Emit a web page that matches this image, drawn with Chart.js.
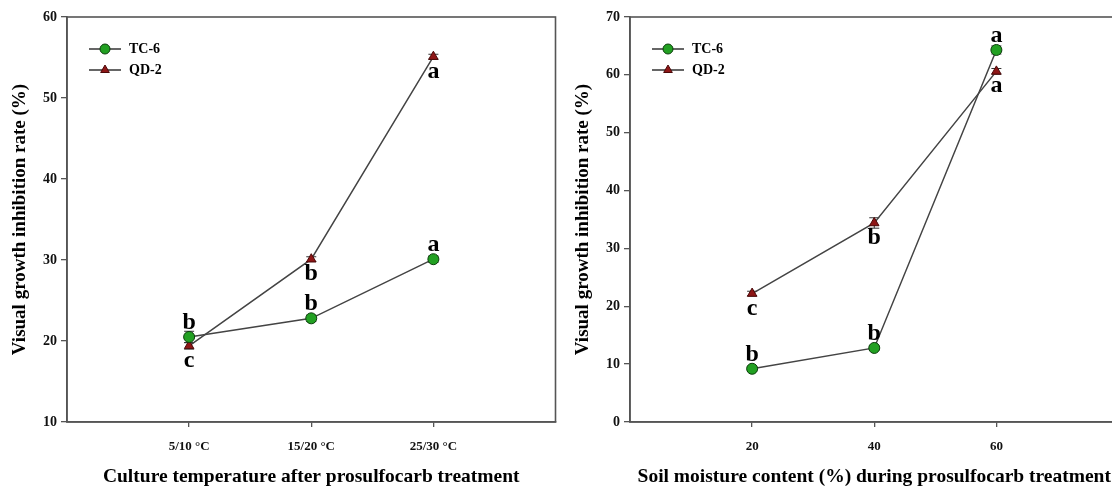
<!DOCTYPE html>
<html>
<head>
<meta charset="utf-8">
<script src="https://cdn.jsdelivr.net/npm/chart.js@4/dist/chart.umd.min.js"></script>
<style>
  html, body { margin: 0; padding: 0; background: #fff; overflow: hidden; }
  .panel { position: absolute; top: 0; width: 562px; height: 489px; }
  #left { left: 0; }
  #right { left: 563px; }
</style>
</head>
<body>
<div class="panel" id="left"><canvas id="c1"></canvas></div>
<div class="panel" id="right"><canvas id="c2"></canvas></div>
<script>
// left panel: culture temperature
const tempLabels = ['5/10 °C', '15/20 °C', '25/30 °C'];
const tempTC6 = [20.5, 22.8, 30.1];
const tempQD2 = [19.4, 30.1, 55.1];
const tempErrTC6 = [0.7, 0.4, 0.4];
const tempErrQD2 = [0.4, 0.3, 0.3];
const tempLetTC6 = ['b', 'b', 'a'];
const tempLetQD2 = ['c', 'b', 'a'];
const tempYTicks = [10, 20, 30, 40, 50, 60];

// right panel: soil moisture
const moisture = [20, 40, 60];
const moistTC6 = [9.2, 12.8, 64.3];
const moistQD2 = [22.2, 34.4, 60.6];
const moistErrTC6 = [0.4, 0.4, 0.7];
const moistErrQD2 = [0.4, 0.9, 0.5];
const moistLetTC6 = ['b', 'b', 'a'];
const moistLetQD2 = ['c', 'b', 'a'];
const moistYTicks = [0, 10, 20, 30, 40, 50, 60, 70];

const SERIF = '"Liberation Serif", "Times New Roman", serif';
const AXIS = '#555';
const GREEN = '#22a022';
const RED = '#8e1616';

const extras = {
  id: 'extras',
  beforeDatasetsDraw(chart) {
    // error bars under the markers
    const ctx = chart.ctx;
    const ys = chart.scales.y;
    ctx.save();
    ctx.strokeStyle = '#333';
    ctx.lineWidth = 1;
    chart.data.datasets.forEach((ds, i) => {
      chart.getDatasetMeta(i).data.forEach((pt, j) => {
        const v = ds.data[j].y, e = ds.errs[j];
        const yt = ys.getPixelForValue(v + e), yb = ys.getPixelForValue(v - e);
        ctx.beginPath();
        ctx.moveTo(pt.x, yt); ctx.lineTo(pt.x, yb);
        ctx.moveTo(pt.x - 5, yt); ctx.lineTo(pt.x + 5, yt);
        ctx.moveTo(pt.x - 5, yb); ctx.lineTo(pt.x + 5, yb);
        ctx.stroke();
      });
    });
    ctx.restore();
  },
  afterDatasetsDraw(chart) {
    const ctx = chart.ctx;
    const area = chart.chartArea;
    ctx.save();
    // frame
    ctx.strokeStyle = AXIS;
    ctx.lineWidth = 1.6;
    ctx.strokeRect(area.left, area.top, area.right - area.left, area.bottom - area.top);

    chart.data.datasets.forEach((ds, i) => {
      chart.getDatasetMeta(i).data.forEach((pt, j) => {
        ctx.fillStyle = '#000';
        ctx.font = 'bold 24px ' + SERIF;
        ctx.textAlign = 'center';
        ctx.textBaseline = 'alphabetic';
        const ly = ds.above ? pt.y - 8 : pt.y + 21;
        ctx.fillText(ds.letters[j], pt.x, ly);
      });
    });

    // legend
    const lx = area.left + 22, ly0 = area.top + 32;
    chart.data.datasets.forEach((ds, i) => {
      const y = ly0 + i * 21;
      ctx.strokeStyle = '#333';
      ctx.lineWidth = 1.5;
      ctx.beginPath();
      ctx.moveTo(lx, y); ctx.lineTo(lx + 32, y);
      ctx.stroke();
      ctx.fillStyle = ds.pointBackgroundColor;
      ctx.strokeStyle = ds.pointBorderColor;
      ctx.lineWidth = 1;
      Chart.helpers.drawPoint(ctx, { pointStyle: ds.pointStyle, radius: 5, borderWidth: 1 }, lx + 16, y);
      ctx.fillStyle = '#000';
      ctx.font = 'bold 14px ' + SERIF;
      ctx.textAlign = 'left';
      ctx.textBaseline = 'middle';
      ctx.fillText(ds.label, lx + 40, y);
    });
    ctx.restore();
  }
};

function series(label, xs, ys, errs, letters, above, style, fill, border) {
  return {
    label: label,
    data: xs.map((x, i) => ({ x: x, y: ys[i] })),
    errs: errs,
    letters: letters,
    above: above,
    borderColor: '#444',
    borderWidth: 1.5,
    pointStyle: style,
    pointRadius: 5.5,
    pointBorderWidth: 1,
    pointBackgroundColor: fill,
    pointBorderColor: border,
    tension: 0,
    fill: false
  };
}

function makePanel(id, xs, xMin, xMax, tickText, tc, qd, errTC, errQD, letTC, letQD, yTicks, xTitle) {
  new Chart(document.getElementById(id), {
    type: 'line',
    data: {
      datasets: [
        series('TC-6', xs, tc, errTC, letTC, true, 'circle', GREEN, '#0b3d0b'),
        series('QD-2', xs, qd, errQD, letQD, false, 'triangle', RED, '#4a0808')
      ]
    },
    options: {
      responsive: true,
      maintainAspectRatio: false,
      animation: false,
      layout: { padding: { top: 17, right: 1, left: 0, bottom: 0 } },
      plugins: { legend: { display: false }, tooltip: { enabled: false } },
      scales: {
        x: {
          type: 'linear',
          min: xMin, max: xMax,
          afterBuildTicks: s => { s.ticks = xs.map(v => ({ value: v })); },
          afterFit: s => { s.height = 67; },
          grid: { display: true, drawOnChartArea: false, drawTicks: true, tickLength: 5, color: AXIS, lineWidth: 1.3 },
          border: { display: true, color: AXIS, width: 1.6 },
          ticks: {
            color: '#111', font: { family: SERIF, size: 13, weight: 'bold' }, padding: 12,
            maxRotation: 0, autoSkip: false,
            callback: v => tickText(v)
          },
          title: { display: true, text: xTitle, color: '#000', font: { family: SERIF, size: 19.5, weight: 'bold' }, padding: { top: 0, bottom: 0 } }
        },
        y: {
          min: yTicks[0], max: yTicks[yTicks.length - 1],
          afterBuildTicks: s => { s.ticks = yTicks.map(v => ({ value: v })); },
          afterFit: s => { s.width = 67; },
          grid: { display: true, drawOnChartArea: false, drawTicks: true, tickLength: 6, color: AXIS, lineWidth: 1.3 },
          border: { display: true, color: AXIS, width: 1.6 },
          ticks: { color: '#111', font: { family: SERIF, size: 14, weight: 'bold' }, padding: 4 },
          title: { display: true, text: 'Visual growth inhibition rate (%)', color: '#000', font: { family: SERIF, size: 19, weight: 'bold' }, padding: { top: 9, bottom: 0 } }
        }
      }
    },
    plugins: [extras]
  });
}

makePanel('c1', [1, 2, 3], 0, 4, v => tempLabels[v - 1] || '',
  tempTC6, tempQD2, tempErrTC6, tempErrQD2, tempLetTC6, tempLetQD2, tempYTicks,
  'Culture temperature after prosulfocarb treatment');

makePanel('c2', moisture, 0, 80, v => String(v),
  moistTC6, moistQD2, moistErrTC6, moistErrQD2, moistLetTC6, moistLetQD2, moistYTicks,
  'Soil moisture content (%) during prosulfocarb treatment');
</script>
</body>
</html>
